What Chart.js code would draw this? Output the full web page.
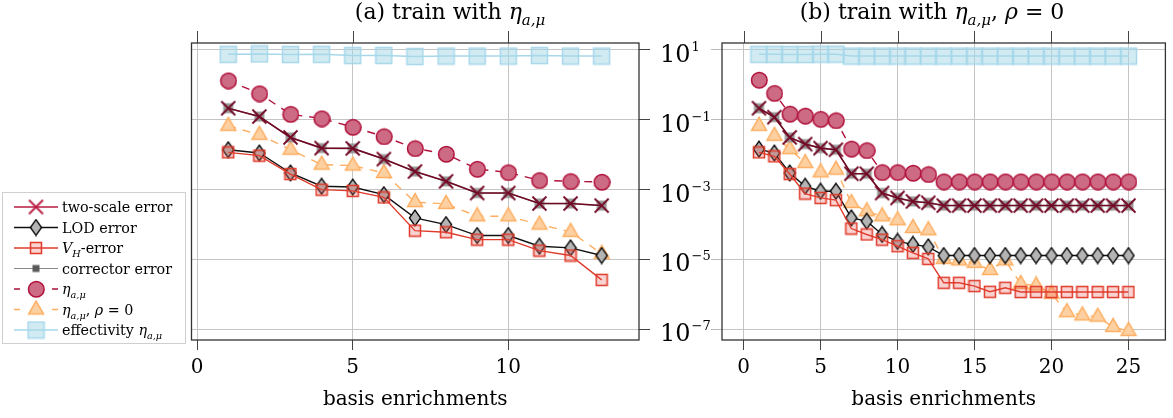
<!DOCTYPE html>
<html>
<head>
<meta charset="utf-8">
<script src="https://cdn.jsdelivr.net/npm/chart.js@4.4.1/dist/chart.umd.min.js"></script>
<style>
  body { margin: 0; background: #fff; width: 1173px; height: 418px; overflow: hidden; position: relative; }
  #chartA { position: absolute; left: 0; top: 0; }
  #chartB { position: absolute; left: 700px; top: 0; }
</style>
</head>
<body>
<canvas id="chartA" width="720" height="418"></canvas>
<canvas id="chartB" width="473" height="418"></canvas>
<script>
// ---- data (a): train with eta ----
const stepsA = [1, 2, 3, 4, 5, 6, 7, 8, 9, 10, 11, 12, 13];
const twoScaleA = [0.215, 0.124, 0.0313, 0.0155, 0.0152, 0.0075, 0.0033, 0.00173, 0.0008, 0.0008, 0.0004, 0.0004, 0.00035];
const lodA = [0.0139, 0.0112, 0.003, 0.00125, 0.00119, 0.00072, 0.000155, 0.0001, 4.85e-5, 4.85e-5, 2.4e-5, 2.15e-5, 1.3e-5];
const vhA = [0.0117, 0.0094, 0.0028, 0.001, 0.00092, 0.0006, 6.7e-5, 6.0e-5, 3.7e-5, 3.7e-5, 1.8e-5, 1.3e-5, 2.6e-6];
const correctorA = [0.215, 0.124, 0.0313, 0.0155, 0.0152, 0.0075, 0.0033, 0.00173, 0.0008, 0.0008, 0.0004, 0.0004, 0.00035];
const etaA = [1.33, 0.565, 0.145, 0.109, 0.062, 0.0334, 0.0152, 0.0105, 0.0039, 0.0031, 0.00185, 0.00173, 0.00166];
const etaRho0A = [0.0674, 0.0373, 0.0139, 0.0052, 0.0049, 0.003, 0.00044, 0.00039, 0.000173, 0.000173, 0.0001, 6.2e-5, 1.45e-5];
const effA = [7.5, 7.7, 7.4, 7.5, 6.9, 7.0, 6.5, 6.7, 6.7, 6.7, 6.9, 6.7, 6.7];

// ---- data (b): train with eta, rho = 0 ----
const stepsB = [1, 2, 3, 4, 5, 6, 7, 8, 9, 10, 11, 12, 13, 14, 15, 16, 17, 18, 19, 20, 21, 22, 23, 24, 25];
const twoScaleB = [0.215, 0.119, 0.0313, 0.0202, 0.0155, 0.0139, 0.00286, 0.00286, 0.0008, 0.00058, 0.00046, 0.00042,
  0.00035, 0.00035, 0.00035, 0.00035, 0.00035, 0.00035, 0.00035, 0.00035, 0.00035, 0.00035, 0.00035, 0.00035, 0.00035];
const lodB = [0.0145, 0.0112, 0.003, 0.00125, 0.0009, 0.0009, 0.000155, 0.000125, 5.2e-5, 3.3e-5, 2.7e-5, 2.3e-5,
  1.3e-5, 1.3e-5, 1.3e-5, 1.3e-5, 1.3e-5, 1.3e-5, 1.3e-5, 1.3e-5, 1.3e-5, 1.3e-5, 1.3e-5, 1.3e-5, 1.3e-5];
const vhB = [0.0117, 0.009, 0.0028, 0.00077, 0.00058, 0.0005, 7.7e-5, 5.2e-5, 3.7e-5, 2.4e-5, 1.55e-5, 1.04e-5,
  2.15e-6, 2.15e-6, 1.73e-6, 1.19e-6, 1.55e-6, 1.17e-6, 1.17e-6, 1.17e-6, 1.17e-6, 1.17e-6, 1.17e-6, 1.17e-6, 1.17e-6];
const correctorB = [0.215, 0.119, 0.0313, 0.0202, 0.0155, 0.0139, 0.00286, 0.00286, 0.0008, 0.00058, 0.00046, 0.00042,
  0.00035, 0.00035, 0.00035, 0.00035, 0.00035, 0.00035, 0.00035, 0.00035, 0.00035, 0.00035, 0.00035, 0.00035, 0.00035];
const etaB = [1.39, 0.578, 0.148, 0.13, 0.1045, 0.0957, 0.0148, 0.0133, 0.00313, 0.00313, 0.003, 0.00274,
  0.0017, 0.0017, 0.0017, 0.0017, 0.0017, 0.0017, 0.0017, 0.0017, 0.0017, 0.0017, 0.0017, 0.0017, 0.0017];
const etaRho0B = [0.0674, 0.0349, 0.0145, 0.00578, 0.00313, 0.00373, 0.000416, 0.00024, 0.000173, 0.000133, 8.0e-5, 6.9e-5,
  1.04e-5, 9.4e-6, 8.0e-6, 5.0e-6, 9.4e-6, 2.0e-6, 1.8e-6, 1.04e-6, 3.1e-7, 2.5e-7, 2.3e-7, 1.17e-7, 9.0e-8];
const effB = [7.5, 7.5, 7.4, 7.4, 7.6, 7.6, 6.7, 6.7, 6.7, 6.7, 6.7, 6.7, 6.7, 6.7, 6.7, 6.7, 6.7, 6.7, 6.7, 6.7, 6.7, 6.7, 6.7, 6.7, 6.7];

// ---- axes ----
const xTicksA = [0, 5, 10];
const xTicksB = [0, 5, 10, 15, 20, 25];
const yTicks = [1e1, 1e-1, 1e-3, 1e-5, 1e-7];
const xLabel = 'basis enrichments';
const seriesNames = ['two-scale error', 'LOD error', 'V_H-error', 'corrector error', 'η_a,μ', 'η_a,μ, ρ = 0', 'effectivity η_a,μ'];

const FONT = '"DejaVu Serif", serif';

// ---- marker images ----
function mk(w, h, fn) {
  const c = document.createElement('canvas');
  c.width = w; c.height = h;
  fn(c.getContext('2d'), w / 2, h / 2);
  return c;
}
const M = {
  cross: (col, r) => mk(2 * r + 3, 2 * r + 3, (g, cx, cy) => {
    g.strokeStyle = col; g.lineWidth = 1.8; g.beginPath();
    g.moveTo(cx - r, cy - r); g.lineTo(cx + r, cy + r);
    g.moveTo(cx + r, cy - r); g.lineTo(cx - r, cy + r); g.stroke();
  }),
  diamond: () => mk(14, 18, (g, cx, cy) => {
    g.beginPath(); g.moveTo(cx, cy - 7.8); g.lineTo(cx + 5.6, cy); g.lineTo(cx, cy + 7.8); g.lineTo(cx - 5.6, cy); g.closePath();
    g.fillStyle = '#b4b4b4'; g.fill(); g.strokeStyle = '#000'; g.lineWidth = 1.3; g.stroke();
  }),
  square: (s, fill, stroke) => mk(s + 3, s + 3, (g, cx, cy) => {
    g.fillStyle = fill; g.fillRect(cx - s / 2, cy - s / 2, s, s);
    if (stroke) { g.strokeStyle = stroke; g.lineWidth = 1.5; g.strokeRect(cx - s / 2, cy - s / 2, s, s); }
  }),
  circle: (r, fill, stroke) => mk(2 * r + 3, 2 * r + 3, (g, cx, cy) => {
    g.beginPath(); g.arc(cx, cy, r, 0, Math.PI * 2);
    g.fillStyle = fill; g.fill(); g.strokeStyle = stroke; g.lineWidth = 1.5; g.stroke();
  }),
  triangle: (R, fill, stroke) => mk(2 * R + 3, 2 * R + 3, (g, cx, cy) => {
    const hw = R * Math.sqrt(3) / 2;
    g.beginPath(); g.moveTo(cx, cy - R); g.lineTo(cx + hw, cy + R / 2); g.lineTo(cx - hw, cy + R / 2); g.closePath();
    g.fillStyle = fill; g.fill(); g.strokeStyle = stroke; g.lineWidth = 1.5; g.stroke();
  })
};

const ST = {
  twoScale: { line: '#700824', lw: 1.6, point: M.cross('#740926', 7), legLine: '#b81c40', legPoint: M.cross('#b81c40', 7) },
  lod: { line: '#111', lw: 1.4, point: M.diamond() },
  vh: { line: '#e03a2a', lw: 1.4, point: M.square(11, 'rgba(232,80,70,0.25)', '#e03a2a') },
  corr: { line: '#8a8a8a', lw: 1.2, point: M.square(10, '#999', null), legPoint: M.square(7, '#5a5a5a', null) },
  eta: { line: '#b0103a', lw: 1.4, dash: [8, 7], point: M.circle(7.8, '#cd6a84', '#b0103a') },
  eta0: { line: '#fdae61', lw: 1.4, dash: [8, 7], point: M.triangle(8.6, '#fdd0a2', '#fdae61') },
  eff: { line: '#a6d8ea', lw: 1.5, point: M.square(16, 'rgba(166,216,232,0.5)', '#a6d8ea') }
};

function series(label, xs, ys, st, order) {
  return {
    label, order,
    data: xs.map((x, i) => ({ x, y: ys[i] })),
    borderColor: st.line, borderWidth: st.lw, borderDash: st.dash || [],
    pointStyle: st.point, pointRadius: 6, tension: 0, fill: false
  };
}

// ---- rich text (sub / superscripts) ----
function parseLabel(s) {
  // "η_a,μ" -> eta with subscript; "V_H-error" -> V with H subscript
  const segs = [];
  const m = s.match(/^(.*?)([ηVρ])_([^\s-]+(?:,[^\s,]+)?)(.*)$/);
  if (!m) return richMath(s);
  if (m[1]) segs.push(...richMath(m[1]));
  segs.push({ t: m[2], it: true });
  segs.push({ t: m[3].replace(/,$/, ''), it: true, sub: true });
  const rest = m[3].endsWith(',') ? ',' + m[4] : m[4];
  if (rest) segs.push(...richMath(rest));
  return segs;
}
function richMath(s) {
  return s.split(/(ρ|η)/).filter(t => t).map(t => ({ t, it: t === 'ρ' || t === 'η' }));
}
function drawRich(ctx, segs, x, y, size, align) {
  const parts = segs.map(s => {
    const fs = (s.sub || s.sup) ? size * 0.68 : size;
    const font = (s.it ? 'italic ' : '') + fs + 'px ' + FONT;
    ctx.font = font;
    return { t: s.t, font, w: ctx.measureText(s.t).width, dy: s.sub ? size * 0.28 : s.sup ? -size * 0.45 : 0 };
  });
  const total = parts.reduce((a, p) => a + p.w, 0);
  let cx = align === 'center' ? x - total / 2 : x;
  ctx.textBaseline = 'alphabetic';
  ctx.textAlign = 'left';
  ctx.fillStyle = '#000';
  parts.forEach(p => { ctx.font = p.font; ctx.fillText(p.t, cx, y + p.dy); cx += p.w; });
}

// ---- frame, mirrored top ticks, titles ----
function framePlugin(title, titleX, yLabels) {
  return {
    id: 'frame',
    afterDraw(chart) {
      const { ctx, chartArea: a, scales } = chart;
      ctx.save();
      ctx.strokeStyle = '#444'; ctx.lineWidth = 1;
      scales.x.ticks.forEach(t => {
        const px = Math.round(scales.x.getPixelForValue(t.value)) + 0.5;
        ctx.beginPath(); ctx.moveTo(px, a.top - 12); ctx.lineTo(px, a.top); ctx.stroke();
      });
      ctx.strokeStyle = '#333'; ctx.lineWidth = 1.3;
      ctx.strokeRect(a.left, a.top, a.right - a.left, a.bottom - a.top);
      drawRich(ctx, title, titleX, 19, 22, 'center');
      if (yLabels) {
        yTicks.forEach(v => {
          const py = scales.y.getPixelForValue(v);
          const ex = String(Math.round(Math.log10(v))).replace('-', '−');
          drawRich(ctx, [{ t: '10' }], a.right + 21, py + 12, 24, 'left');
          ctx.font = '24px ' + FONT;
          const w = ctx.measureText('10').width;
          ctx.font = '13px ' + FONT;
          ctx.fillText(ex, a.right + 21 + w + 1, py + 1);
        });
      }
      ctx.restore();
    }
  };
}

// ---- legend drawn to the left of panel (a) ----
const legendStyles = [ST.twoScale, ST.lod, ST.vh, ST.corr, ST.eta, ST.eta0, ST.eff];
const legendPlugin = {
  id: 'sideLegend',
  afterDraw(chart) {
    const ctx = chart.ctx;
    ctx.save();
    ctx.strokeStyle = '#cfcfcf'; ctx.lineWidth = 1;
    ctx.strokeRect(2.5, 192.5, 183, 151);
    legendStyles.forEach((st, i) => {
      const y = 207 + i * 20.5;
      ctx.strokeStyle = st.legLine || st.line; ctx.lineWidth = st.lw;
      ctx.setLineDash(st.dash ? [6, 32] : []);
      ctx.beginPath(); ctx.moveTo(14, y); ctx.lineTo(58, y); ctx.stroke();
      ctx.setLineDash([]);
      const p = st.legPoint || st.point;
      ctx.drawImage(p, 36 - p.width / 2, y - p.height / 2);
      drawRich(ctx, parseLabel(seriesNames[i]), 62, y + 5, 14.3, 'left');
    });
    ctx.restore();
  }
};

function buildOptions(xMin, xMax, xTicks, yPos, yWidth, yTickColor, padding) {
  const tickFont = { family: FONT, size: 20 };
  return {
    responsive: false, animation: false, devicePixelRatio: 1, events: [],
    layout: { padding },
    plugins: { legend: { display: false }, tooltip: { enabled: false } },
    scales: {
      x: {
        type: 'linear', min: xMin, max: xMax,
        afterBuildTicks: s => { s.ticks = xTicks.map(v => ({ value: v })); },
        afterFit: s => { s.height = 78; },
        grid: { color: '#c4c4c4', tickColor: '#444', tickLength: 10 },
        border: { display: false },
        ticks: { font: tickFont, color: '#000', padding: 6, maxRotation: 0 },
        title: { display: true, text: xLabel, font: tickFont, color: '#000', padding: { top: 0, bottom: 6 } }
      },
      y: {
        type: 'logarithmic', position: yPos, min: Math.pow(10, -7.306), max: Math.pow(10, 1.2),
        afterBuildTicks: s => { s.ticks = yTicks.map(v => ({ value: v })); },
        afterFit: s => { s.width = yWidth; },
        grid: { color: '#c4c4c4', tickColor: yTickColor, tickLength: 11 },
        border: { display: false },
        ticks: { display: false }
      }
    }
  };
}

function datasets(xs, two, lod, vh, corr, eta, eta0, eff) {
  return [
    series(seriesNames[0], xs, two, ST.twoScale, 1),
    series(seriesNames[1], xs, lod, ST.lod, 4),
    series(seriesNames[2], xs, vh, ST.vh, 3),
    series(seriesNames[3], xs, corr, ST.corr, 2),
    series(seriesNames[4], xs, eta, ST.eta, 5),
    series(seriesNames[5], xs, eta0, ST.eta0, 6),
    series(seriesNames[6], xs, eff, ST.eff, 7)
  ];
}

new Chart(document.getElementById('chartA'), {
  type: 'line',
  data: { datasets: datasets(stepsA, twoScaleA, lodA, vhA, correctorA, etaA, etaRho0A, effA) },
  options: buildOptions(-0.18, 14.2, xTicksA, 'right', 81, '#444', { left: 191.5, right: 0, top: 43, bottom: 0 }),
  plugins: [framePlugin(richMath('(a) train with ').concat(parseLabel('η_a,μ')), 450, true), legendPlugin]
});

new Chart(document.getElementById('chartB'), {
  type: 'line',
  data: { datasets: datasets(stepsB, twoScaleB, lodB, vhB, correctorB, etaB, etaRho0B, effB) },
  options: buildOptions(-1.4, 27.4, xTicksB, 'left', 22, '#bbbbbb', { left: 0, right: 3.5, top: 43, bottom: 0 }),
  plugins: [framePlugin(richMath('(b) train with ').concat(parseLabel('η_a,μ, ρ = 0')), 232, false)]
});
</script>
</body>
</html>
